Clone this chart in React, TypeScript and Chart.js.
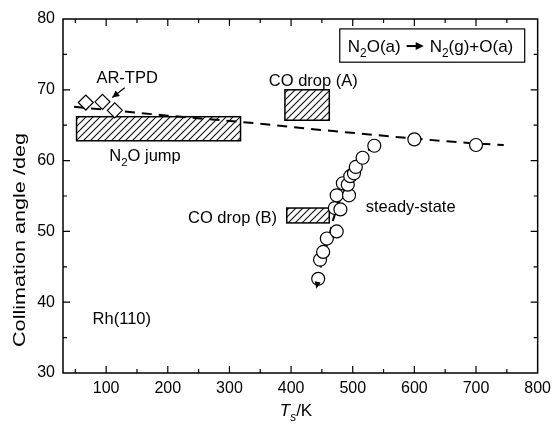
import React, { useEffect, useRef } from 'react';
import { Chart, registerables } from 'chart.js';

Chart.register(...registerables);

const FONT = '"Liberation Sans", Arial, Helvetica, sans-serif';

// Tick labels
const xTickValues = [100, 200, 300, 400, 500, 600, 700, 800];
const yTickValues = [30, 40, 50, 60, 70, 80];
const xMinorTicks = [50, 150, 250, 350, 450, 550, 650, 750];
const yMinorTicks = [35, 45, 55, 65, 75];

// AR-TPD diamonds
const arTpdT = [67, 94, 114];
const arTpdAngle = [68.2, 68.3, 67.1];

// steady-state circles
const steadyT = [444, 447, 452, 458, 474, 471, 480, 474, 494, 484, 492, 496, 502, 505, 516, 535, 600, 700];
const steadyAngle = [43.3, 46.0, 47.1, 49.0, 50.0, 53.3, 53.1, 55.1, 55.1, 56.8, 56.6, 57.8, 58.2, 59.1, 60.4, 62.1, 63.0, 62.2];

// dashed guide (horizontal trend)
const trendT = [48, 200, 340, 440, 600, 700, 745];
const trendAngle = [67.6, 66.35, 65.3, 64.4, 63.1, 62.4, 62.2];

// dashed guide (steady-state rise)
const riseT = [538, 520, 506, 492, 479, 468, 461, 448, 441];
const riseAngle = [62.3, 61.1, 59.5, 57.0, 54.4, 51.6, 49.0, 45.0, 41.9];

// hatched ranges
const boxNames = ['N2O jump', 'CO drop (A)', 'CO drop (B)'];
const boxTLow = [52, 390, 393];
const boxTHigh = [318, 462, 462];
const boxAngleLow = [62.8, 65.7, 51.2];
const boxAngleHigh = [66.2, 70.0, 53.3];

type Part = { t: string; sub?: boolean; it?: boolean };

function drawRich(ctx: CanvasRenderingContext2D, parts: Part[], x: number, y: number, size: number, align: 'left' | 'center' | 'right') {
  const fontFor = (p: Part) => `${p.it ? 'italic ' : ''}${p.sub ? size * 0.7 : size}px ${FONT}`;
  let total = 0;
  for (const p of parts) {
    ctx.font = fontFor(p);
    total += ctx.measureText(p.t).width;
  }
  let cx = align === 'left' ? x : align === 'center' ? x - total / 2 : x - total;
  ctx.textAlign = 'left';
  ctx.textBaseline = 'alphabetic';
  for (const p of parts) {
    ctx.font = fontFor(p);
    ctx.fillText(p.t, cx, p.sub ? y + size * 0.3 : y);
    cx += ctx.measureText(p.t).width;
  }
  return total;
}

function makeHatch(ctx: CanvasRenderingContext2D) {
  const s = 7;
  const c = document.createElement('canvas');
  c.width = s;
  c.height = s;
  const g = c.getContext('2d')!;
  g.strokeStyle = '#111';
  g.lineWidth = 1.1;
  g.beginPath();
  g.moveTo(0, s);
  g.lineTo(s, 0);
  g.moveTo(-1, 1);
  g.lineTo(1, -1);
  g.moveTo(s - 1, s + 1);
  g.lineTo(s + 1, s - 1);
  g.stroke();
  return ctx.createPattern(c, 'repeat')!;
}

function arrowHead(ctx: CanvasRenderingContext2D, fx: number, fy: number, tx: number, ty: number, len: number, half: number) {
  const a = Math.atan2(ty - fy, tx - fx);
  ctx.beginPath();
  ctx.moveTo(tx, ty);
  ctx.lineTo(tx - len * Math.cos(a) + half * Math.sin(a), ty - len * Math.sin(a) - half * Math.cos(a));
  ctx.lineTo(tx - len * Math.cos(a) - half * Math.sin(a), ty - len * Math.sin(a) + half * Math.cos(a));
  ctx.closePath();
  ctx.fill();
}

const decor = {
  id: 'decor',
  beforeDatasetsDraw(chart: any) {
    const { ctx, scales } = chart;
    const x = scales.x;
    const y = scales.y;
    const pat = makeHatch(ctx);
    ctx.save();
    for (let i = 0; i < boxTLow.length; i++) {
      const x0 = x.getPixelForValue(boxTLow[i]);
      const x1 = x.getPixelForValue(boxTHigh[i]);
      const y0 = y.getPixelForValue(boxAngleHigh[i]);
      const y1 = y.getPixelForValue(boxAngleLow[i]);
      ctx.fillStyle = '#fff';
      ctx.fillRect(x0, y0, x1 - x0, y1 - y0);
      ctx.fillStyle = pat;
      ctx.fillRect(x0, y0, x1 - x0, y1 - y0);
      ctx.strokeStyle = '#000';
      ctx.lineWidth = 1.5;
      ctx.strokeRect(x0, y0, x1 - x0, y1 - y0);
    }
    ctx.restore();
  },
  afterDraw(chart: any) {
    const { ctx, chartArea: a, scales } = chart;
    const x = scales.x;
    const y = scales.y;
    ctx.save();
    ctx.strokeStyle = '#000';
    ctx.fillStyle = '#000';
    // frame
    ctx.lineWidth = 1.5;
    ctx.strokeRect(a.left, a.top, a.right - a.left, a.bottom - a.top);
    // inward ticks
    ctx.lineWidth = 1.2;
    ctx.beginPath();
    const tickX = (v: number, len: number) => {
      const px = x.getPixelForValue(v);
      ctx.moveTo(px, a.bottom);
      ctx.lineTo(px, a.bottom - len);
      ctx.moveTo(px, a.top);
      ctx.lineTo(px, a.top + len);
    };
    const tickY = (v: number, len: number) => {
      const py = y.getPixelForValue(v);
      ctx.moveTo(a.left, py);
      ctx.lineTo(a.left + len, py);
      ctx.moveTo(a.right, py);
      ctx.lineTo(a.right - len, py);
    };
    xTickValues.filter((v) => v < 800).forEach((v) => tickX(v, 7));
    xMinorTicks.forEach((v) => tickX(v, 4));
    yTickValues.filter((v) => v > 30 && v < 80).forEach((v) => tickY(v, 7));
    yMinorTicks.forEach((v) => tickY(v, 4));
    ctx.stroke();

    const fs = 16.5;
    // axis titles
    drawRich(ctx, [{ t: 'T', it: true }, { t: 's', it: true, sub: true }, { t: '/K' }], 296, 416, 17, 'center');
    ctx.save();
    ctx.translate(25, 240);
    ctx.rotate(-Math.PI / 2);
    ctx.font = `17px ${FONT}`;
    const title = 'Collimation angle /deg';
    const w = ctx.measureText(title).width;
    ctx.scale(214 / w, 1);
    ctx.textAlign = 'center';
    ctx.textBaseline = 'alphabetic';
    ctx.fillText(title, 0, 0);
    ctx.restore();

    // annotations
    const P = (t: number, d: number) => [x.getPixelForValue(t), y.getPixelForValue(d)];
    let [px, py] = P(134, 71.0);
    drawRich(ctx, [{ t: 'AR-TPD' }], px, py, fs, 'center');
    const [ax0, ay0] = P(130, 70.3);
    const [ax1, ay1] = P(110, 68.9);
    ctx.lineWidth = 1.3;
    ctx.beginPath();
    ctx.moveTo(ax0, ay0);
    ctx.lineTo(ax1, ay1);
    ctx.stroke();
    arrowHead(ctx, ax0, ay0, ax1, ay1, 7, 3.5);

    [px, py] = P(163, 60.0);
    drawRich(ctx, [{ t: 'N' }, { t: '2', sub: true }, { t: 'O jump' }], px, py, fs, 'center');
    [px, py] = P(436, 70.6);
    drawRich(ctx, [{ t: 'CO drop (A)' }], px, py, fs, 'center');
    [px, py] = P(377, 51.2);
    drawRich(ctx, [{ t: 'CO drop (B)' }], px, py, fs, 'right');
    [px, py] = P(594, 52.7);
    drawRich(ctx, [{ t: 'steady-state' }], px, py, fs, 'center');
    [px, py] = P(78, 36.9);
    drawRich(ctx, [{ t: 'Rh(110)' }], px, py, fs, 'left');

    // reaction box
    const [bx0, by0] = P(479, 78.6);
    const [bx1, by1] = P(779, 73.9);
    ctx.fillStyle = '#fff';
    ctx.fillRect(bx0, by0, bx1 - bx0, by1 - by0);
    ctx.strokeStyle = '#000';
    ctx.lineWidth = 1.2;
    ctx.strokeRect(bx0, by0, bx1 - bx0, by1 - by0);
    ctx.fillStyle = '#000';
    const lfs = 17;
    const ty = (by0 + by1) / 2 + 6;
    let cx = bx0 + 8;
    cx += drawRich(ctx, [{ t: 'N' }, { t: '2', sub: true }, { t: 'O(a)' }], cx, ty, lfs, 'left');
    cx += 6;
    ctx.lineWidth = 2;
    ctx.beginPath();
    ctx.moveTo(cx, ty - 5.5);
    ctx.lineTo(cx + 10, ty - 5.5);
    ctx.stroke();
    arrowHead(ctx, cx + 6, ty - 5.5, cx + 17, ty - 5.5, 8, 4);
    cx += 23;
    drawRich(ctx, [{ t: 'N' }, { t: '2', sub: true }, { t: '(g)+O(a)' }], cx, ty, lfs, 'left');

    // arrow at the bottom of the rise line
    const n = riseT.length;
    const [rx0, ry0] = P(riseT[n - 2], riseAngle[n - 2]);
    const [rx1, ry1] = P(riseT[n - 1], riseAngle[n - 1]);
    arrowHead(ctx, rx0, ry0, rx1, ry1, 7, 3);
    ctx.restore();
  },
};

export default function App() {
  const ref = useRef<HTMLCanvasElement>(null);
  useEffect(() => {
    document.body.style.margin = '0';
    const toPts = (xs: number[], ys: number[]) => xs.map((v, i) => ({ x: v, y: ys[i] }));
    const chart = new Chart(ref.current!, {
      type: 'scatter',
      data: {
        datasets: [
          {
            label: 'trend',
            type: 'line',
            data: toPts(trendT, trendAngle),
            borderColor: '#000',
            borderWidth: 2,
            borderDash: [10, 7],
            pointRadius: 0,
            fill: false,
            tension: 0,
            order: 3,
          },
          {
            label: 'rise',
            type: 'line',
            data: toPts(riseT, riseAngle),
            borderColor: '#000',
            borderWidth: 2,
            borderDash: [10, 6],
            pointRadius: 0,
            fill: false,
            tension: 0,
            order: 3,
          },
          {
            label: 'AR-TPD',
            data: toPts(arTpdT, arTpdAngle),
            pointStyle: 'rectRot',
            pointRadius: 7.5,
            backgroundColor: '#fff',
            borderColor: '#000',
            borderWidth: 1.2,
            order: 0,
          },
          {
            label: 'steady-state',
            data: toPts(steadyT, steadyAngle),
            pointStyle: 'circle',
            pointRadius: 6.5,
            backgroundColor: '#fff',
            borderColor: '#000',
            borderWidth: 1.2,
            order: 0,
          },
        ],
      },
      options: {
        responsive: false,
        animation: false,
        devicePixelRatio: 1,
        layout: { padding: { left: 0, top: 19, right: 14, bottom: 0 } },
        plugins: { legend: { display: false }, tooltip: { enabled: false } },
        scales: {
          x: {
            type: 'linear',
            min: 30,
            max: 800,
            afterBuildTicks: (s: any) => {
              s.ticks = xTickValues.map((v) => ({ value: v }));
            },
            afterFit: (s: any) => {
              s.height = 56;
            },
            grid: { display: false, drawTicks: false },
            border: { display: false },
            ticks: { color: '#000', font: { family: FONT, size: 16 }, padding: 6, maxRotation: 0, autoSkip: false },
          },
          y: {
            type: 'linear',
            min: 30,
            max: 80,
            afterBuildTicks: (s: any) => {
              s.ticks = yTickValues.map((v) => ({ value: v }));
            },
            afterFit: (s: any) => {
              s.width = 63;
            },
            grid: { display: false, drawTicks: false },
            border: { display: false },
            ticks: { color: '#000', font: { family: FONT, size: 16 }, padding: 8 },
          },
        },
      },
      plugins: [decor],
    } as any);
    return () => chart.destroy();
  }, []);
  return (
    <div style={{ position: 'absolute', left: 0, top: 0, width: 557, height: 429, background: '#fff' }}>
      <canvas ref={ref} width={557} height={429} style={{ display: 'block', width: 557, height: 429 }} />
    </div>
  );
}
